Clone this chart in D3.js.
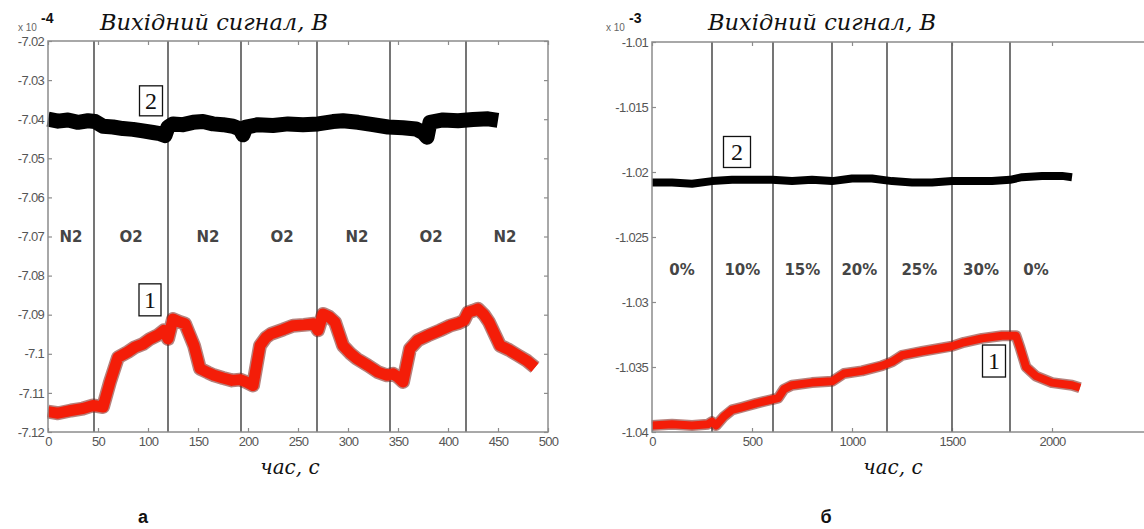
<html>
<head>
<script src="https://cdnjs.cloudflare.com/ajax/libs/d3/7.8.5/d3.min.js"></script>
<style>
    body { margin: 0; background: #fff; }
    svg { display: block; }
    .tick text { font: 13px "Liberation Sans", Arial, sans-serif; fill: #555; letter-spacing: -0.7px; }
    .tick line { stroke: #8c8c8c; stroke-width: 1.2; }
    .domain { display: none; }
    .frame { fill: none; stroke: #8c8c8c; stroke-width: 1.5; }
    .divider { stroke: #676767; stroke-width: 1.8; }
    .zone { font: bold 15px "DejaVu Sans", Verdana, sans-serif; fill: #454545; }
    .title { font: italic 22.5px "DejaVu Serif", serif; fill: #111; }
    .xtitle { font: italic 20px "DejaVu Serif", serif; fill: #111; }
    .mult { font: 10px "Liberation Sans", Arial, sans-serif; fill: #666; }
    .expo { font: bold 14px "Liberation Sans", Arial, sans-serif; fill: #111; }
    .box rect { fill: #fff; stroke: #111; stroke-width: 1.3; }
    .box text { font: 24px "Liberation Serif", serif; fill: #111; }
    .letter { font: bold 18px "Liberation Sans", Arial, sans-serif; fill: #111; }
</style>
</head>
<body>
<script>
// ---- panel a: N2 / O2 switching, values x 1e-4 V ----
var tRedA = [0, 10, 23, 35, 45, 55, 62, 70, 80, 87, 95, 102, 110, 116, 120, 125, 131, 137, 146, 152, 160, 166, 175, 184, 192, 198, 205, 212, 218, 223, 235, 245, 256, 266, 270, 275, 281, 287, 295, 302, 309, 320, 330, 339, 345, 350, 355, 362, 370, 380, 392, 402, 410, 416, 420, 425, 430, 436, 441, 452, 461, 470, 479, 487];
var redA  = [-7.1148, -7.1152, -7.1145, -7.1140, -7.1132, -7.1136, -7.1072, -7.1009, -7.0995, -7.0983, -7.0975, -7.0962, -7.0952, -7.0940, -7.0962, -7.0911, -7.0918, -7.0923, -7.0979, -7.1038, -7.1048, -7.1055, -7.1062, -7.1068, -7.1066, -7.1072, -7.1081, -7.0979, -7.0958, -7.0949, -7.0938, -7.0928, -7.0926, -7.0923, -7.0940, -7.0898, -7.0905, -7.0919, -7.0979, -7.0998, -7.1013, -7.1030, -7.1047, -7.1055, -7.1051, -7.1060, -7.1072, -7.0987, -7.0965, -7.0953, -7.0940, -7.0928, -7.0922, -7.0915, -7.0894, -7.0890, -7.0885, -7.0900, -7.0919, -7.0979, -7.0990, -7.1004, -7.1018, -7.1035];
var tBlackA = [0, 10, 20, 30, 40, 47, 55, 65, 75, 85, 95, 105, 112, 117, 120, 125, 135, 145, 155, 165, 175, 185, 192, 195, 198, 210, 225, 240, 255, 270, 285, 295, 310, 325, 340, 355, 368, 375, 379, 382, 395, 410, 425, 440, 450];
var blackA  = [-7.0400, -7.0405, -7.0402, -7.0408, -7.0404, -7.0406, -7.0418, -7.0420, -7.0424, -7.0426, -7.0430, -7.0434, -7.0437, -7.0442, -7.0420, -7.0412, -7.0414, -7.0408, -7.0406, -7.0412, -7.0414, -7.0418, -7.0425, -7.0440, -7.0420, -7.0414, -7.0416, -7.0412, -7.0414, -7.0412, -7.0406, -7.0404, -7.0408, -7.0414, -7.0420, -7.0422, -7.0425, -7.0434, -7.0446, -7.0408, -7.0402, -7.0404, -7.0401, -7.0399, -7.0403];
var dividersA = [46, 120, 193, 269, 342, 418];
var zonesA = ["N2", "O2", "N2", "O2", "N2", "O2", "N2"];
var zoneTA = [23, 83, 160, 234, 309, 383, 457];
var xTicksA = [0, 50, 100, 150, 200, 250, 300, 350, 400, 450, 500];
var yTicksA = [-7.02, -7.03, -7.04, -7.05, -7.06, -7.07, -7.08, -7.09, -7.1, -7.11, -7.12];

// ---- panel b: O2 concentration steps, values x 1e-3 V ----
var tRedB = [0, 100, 200, 280, 300, 320, 360, 400, 450, 520, 600, 630, 660, 700, 800, 900, 960, 1050, 1150, 1200, 1250, 1350, 1500, 1560, 1650, 1750, 1820, 1840, 1870, 1920, 2000, 2100, 2140];
var redB  = [-1.0395, -1.0394, -1.0395, -1.0394, -1.0392, -1.0395, -1.0388, -1.0383, -1.0381, -1.0378, -1.0375, -1.0374, -1.0367, -1.0364, -1.0362, -1.0361, -1.0355, -1.0353, -1.0349, -1.0346, -1.0341, -1.0338, -1.0334, -1.0331, -1.0328, -1.0326, -1.0326, -1.0335, -1.0350, -1.0357, -1.0362, -1.0364, -1.0366];
var tBlackB = [0, 100, 200, 300, 400, 500, 600, 700, 800, 900, 1000, 1100, 1200, 1300, 1400, 1500, 1600, 1700, 1790, 1850, 1950, 2050, 2100];
var blackB  = [-1.0208, -1.0208, -1.0209, -1.0207, -1.0206, -1.0206, -1.0206, -1.0207, -1.0206, -1.0207, -1.0205, -1.0205, -1.0207, -1.0208, -1.0208, -1.0207, -1.0207, -1.0207, -1.0206, -1.0204, -1.0203, -1.0203, -1.0204];
var dividersB = [300, 605, 900, 1175, 1500, 1790];
var zonesB = ["0%", "10%", "15%", "20%", "25%", "30%", "0%"];
var zoneTB = [150, 452, 752, 1037, 1337, 1645, 1920];
var xTicksB = [0, 500, 1000, 1500, 2000];
var yTicksB = [-1.01, -1.015, -1.02, -1.025, -1.03, -1.035, -1.04];

var svg = d3.select("body").append("svg").attr("width", 1144).attr("height", 529);

var panels = [
    {x0: 48, x1: 548, y0: 41, y1: 432, xd: [0, 500], yd: [-7.12, -7.02], xt: xTicksA, yt: yTicksA, dig: 2,
     red: [tRedA, redA], black: [tBlackA, blackA], redW: 11, blackW: 15,
     div: dividersA, zones: zonesA, zoneT: zoneTA, zoneY: 242,
     exp: "-4", multX: 18, titleX: 100, xtitleX: 290, letter: "а", letterX: 143,
     boxes: [{n: "2", t: 103, v: -7.0353, w: 23, h: 30}, {n: "1", t: 102, v: -7.0862, w: 22, h: 32}]},
    {x0: 652, x1: 1152, y0: 42, y1: 432, xd: [0, 2500], yd: [-1.04, -1.01], xt: xTicksB, yt: yTicksB, dig: 3,
     red: [tRedB, redB], black: [tBlackB, blackB], redW: 8, blackW: 8,
     div: dividersB, zones: zonesB, zoneT: zoneTB, zoneY: 275,
     exp: "-3", multX: 606, titleX: 708, xtitleX: 893, letter: "б", letterX: 826,
     boxes: [{n: "2", t: 425, v: -1.01846, w: 27, h: 31}, {n: "1", t: 1710, v: -1.03454, w: 23, h: 32}]}
];

panels.forEach(function (p) {
    var x = d3.scaleLinear().domain(p.xd).range([p.x0, p.x1]);
    var y = d3.scaleLinear().domain(p.yd).range([p.y1, p.y0]);
    var g = svg.append("g");
    var fmt = function (v) { return String(+v.toFixed(p.dig)); };

    // axes, ticks pointing inward like matlab
    g.append("g").attr("transform", "translate(" + p.x0 + ",0)")
        .call(d3.axisLeft(y).tickValues(p.yt).tickFormat(fmt).tickSizeInner(-4).tickSizeOuter(0).tickPadding(4));
    g.append("g").attr("transform", "translate(" + p.x1 + ",0)")
        .call(d3.axisRight(y).tickValues(p.yt).tickFormat("").tickSizeInner(-4).tickSizeOuter(0));
    g.append("g").attr("transform", "translate(0," + p.y1 + ")")
        .call(d3.axisBottom(x).tickValues(p.xt).tickFormat(d3.format("d")).tickSizeInner(-4).tickSizeOuter(0).tickPadding(5));
    g.append("g").attr("transform", "translate(0," + p.y0 + ")")
        .call(d3.axisTop(x).tickValues(p.xt).tickFormat("").tickSizeInner(-4).tickSizeOuter(0));

    g.selectAll(".divider").data(p.div).enter().append("line")
        .attr("class", "divider")
        .attr("x1", function (d) { return x(d); }).attr("x2", function (d) { return x(d); })
        .attr("y1", p.y0).attr("y2", p.y1);

    g.selectAll(".zone").data(p.zones).enter().append("text")
        .attr("class", "zone")
        .attr("x", function (d, i) { return x(p.zoneT[i]); })
        .attr("y", p.zoneY)
        .attr("text-anchor", "middle")
        .text(function (d) { return d; });

    var line = d3.line().x(function (d) { return x(d[0]); }).y(function (d) { return y(d[1]); });
    var redPts = d3.zip(p.red[0], p.red[1]);
    var blackPts = d3.zip(p.black[0], p.black[1]);

    g.append("path").attr("d", line(blackPts)).attr("fill", "none")
        .attr("stroke", "#000").attr("stroke-width", p.blackW).attr("stroke-linejoin", "round");
    g.append("path").attr("d", line(redPts)).attr("fill", "none")
        .attr("stroke", "#7a1a10").attr("stroke-opacity", 0.55).attr("stroke-width", p.redW + 3).attr("stroke-linejoin", "round");
    g.append("path").attr("d", line(redPts)).attr("fill", "none")
        .attr("stroke", "#f41d08").attr("stroke-width", p.redW).attr("stroke-linejoin", "round");

    g.append("rect").attr("class", "frame")
        .attr("x", p.x0).attr("y", p.y0).attr("width", p.x1 - p.x0).attr("height", p.y1 - p.y0);

    var box = g.selectAll(".box").data(p.boxes).enter().append("g").attr("class", "box")
        .attr("transform", function (d) { return "translate(" + x(d.t) + "," + y(d.v) + ")"; });
    box.append("rect")
        .attr("x", function (d) { return -d.w / 2; }).attr("y", function (d) { return -d.h / 2; })
        .attr("width", function (d) { return d.w; }).attr("height", function (d) { return d.h; });
    box.append("text").attr("text-anchor", "middle").attr("y", 8).text(function (d) { return d.n; });

    // multiplier + title
    g.append("text").attr("class", "mult").attr("x", p.multX).attr("y", 31).text("x 10");
    g.append("text").attr("class", "expo").attr("x", p.multX + 23).attr("y", 23).text(p.exp);
    g.append("text").attr("class", "title").attr("x", p.titleX).attr("y", 30).text("Вихідний сигнал, В");
    g.append("text").attr("class", "xtitle").attr("x", p.xtitleX).attr("y", 474)
        .attr("text-anchor", "middle").text("час, с");
    g.append("text").attr("class", "letter").attr("x", p.letterX).attr("y", 523)
        .attr("text-anchor", "middle").text(p.letter);
});
</script>
</body>
</html>
